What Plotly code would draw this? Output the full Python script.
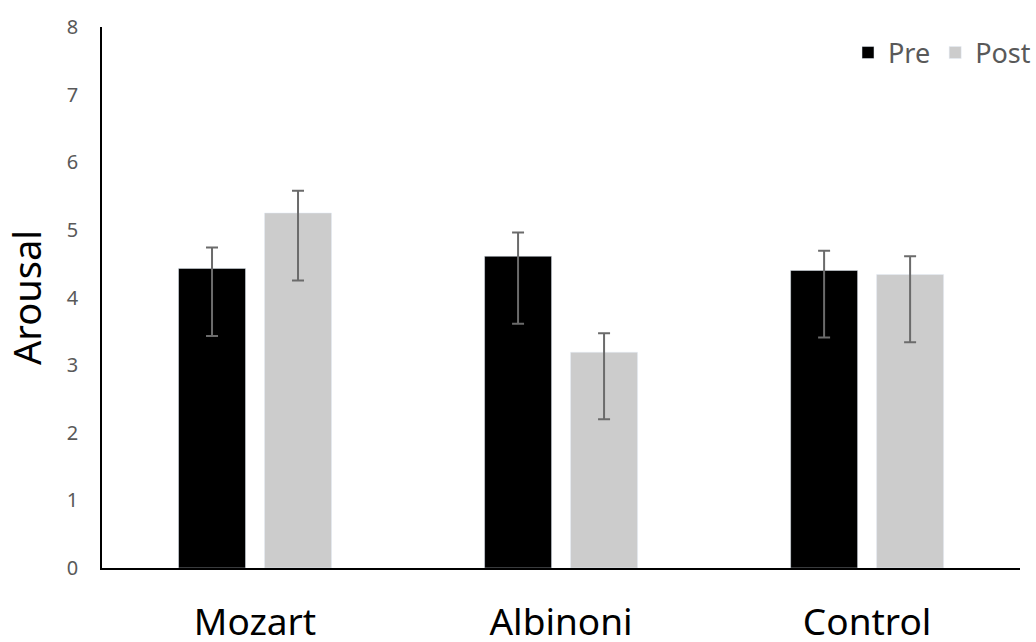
import plotly.graph_objects as go

categories = ["Mozart", "Albinoni", "Control"]
pre_values = [4.43, 4.61, 4.40]
pre_err_plus = [0.31, 0.35, 0.29]
pre_err_minus = [1.00, 1.00, 0.99]
post_values = [5.25, 3.19, 4.34]
post_err_plus = [0.33, 0.28, 0.27]
post_err_minus = [1.00, 0.99, 1.00]
y_ticks = [0, 1, 2, 3, 4, 5, 6, 7, 8]

FONT = "Noto Sans"
err_style = dict(type="data", symmetric=False, color="#6b6b6b", thickness=2, width=6)

fig = go.Figure()
fig.add_trace(go.Bar(
    name="Pre", x=categories, y=pre_values, marker_color="#000000",
    error_y=dict(array=pre_err_plus, arrayminus=pre_err_minus, **err_style),
))
fig.add_trace(go.Bar(
    name="Post", x=categories, y=post_values, marker_color="#cccccc",
    error_y=dict(array=post_err_plus, arrayminus=post_err_minus, **err_style),
))

fig.update_layout(
    width=1036, height=642,
    margin=dict(l=102, r=0, t=27, b=74),
    paper_bgcolor="white", plot_bgcolor="white",
    barmode="group", bargap=0.438, bargroupgap=0.221,
    font=dict(family=FONT, color="#595959"),
    showlegend=True,
    legend=dict(orientation="h", x=1.0, xanchor="right", y=0.952, yanchor="middle",
                font=dict(size=27, color="#595959", family=FONT),
                bgcolor="rgba(0,0,0,0)", traceorder="normal", itemwidth=30),
    xaxis=dict(domain=[0, 0.983], showline=True, linecolor="#000000", linewidth=1.5,
               showgrid=False, ticks="", tickfont=dict(size=37, color="#000000", family=FONT),
               ticklabelstandoff=21, automargin=False),
    yaxis=dict(range=[0, 8], tickvals=y_ticks, showline=True, linecolor="#000000",
               linewidth=1.5, showgrid=False, zeroline=False, ticks="",
               tickfont=dict(size=20, color="#595959", family=FONT),
               ticklabelstandoff=18, automargin=False,
               title=dict(text="Arousal", font=dict(size=38, color="#000000", family=FONT),
                          standoff=16)),
)

post = ("document.documentElement.style.margin='0';document.body.style.margin='0';"
        "document.body.style.padding='0';document.documentElement.style.overflow='hidden';"
        "document.body.style.overflow='hidden';"
        "var gd=document.getElementById('{plot_id}');Plotly.relayout(gd,{width:1036,height:642});")
fig.write_html("out.html", post_script=post, config={"displayModeBar": False})
